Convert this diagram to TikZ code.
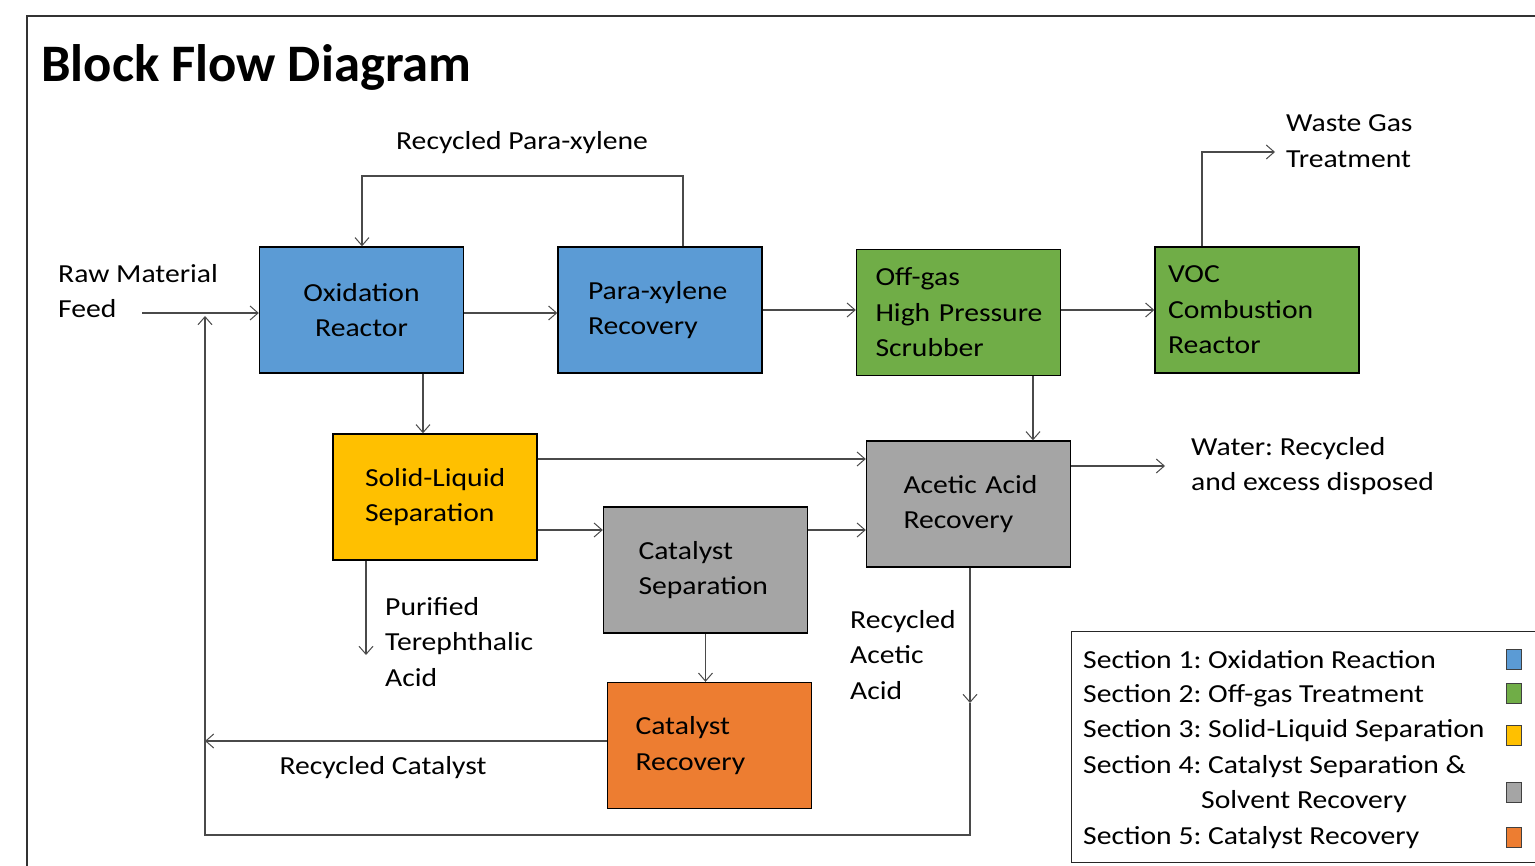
\documentclass[tikz,border=0pt]{standalone}
\usepackage{fontspec}
\setmainfont{Carlito}[FakeStretch=1.14]
\newfontfamily\titlefont{Carlito}
\usetikzlibrary{arrows.meta}
\definecolor{cblue}{HTML}{5B9BD5}
\definecolor{cgreen}{HTML}{70AD47}
\definecolor{cyellow}{HTML}{FFC000}
\definecolor{cgray}{HTML}{A5A5A5}
\definecolor{corange}{HTML}{ED7D31}
\definecolor{lgray}{HTML}{4A4A4A}
\newcommand\fz{\fontsize{26}{35.5}\selectfont}
\frenchspacing
\begin{document}
\begin{tikzpicture}[x=1pt,y=-1pt,
  blk/.style={draw=black, line width=1.4pt, minimum width=204pt, minimum height=126pt, font=\fz, inner ysep=0pt},
  lblk/.style={blk, align=left, inner xsep=#1, text width=204pt-2*#1,
    execute at begin node={\hyphenpenalty=10000\exhyphenpenalty=10000\hbadness=10000\hfuzz=100pt}},
  flow/.style={draw=lgray, line width=1.1pt, -{Straight Barb[length=8pt,width=14pt,line width=1pt]}},
  plain/.style={draw=lgray, line width=1.1pt},
  lbl/.style={font=\fz, inner sep=0pt, align=left, anchor=west},
  sq/.style={draw=black!75, line width=1pt, minimum width=15pt, minimum height=20pt, inner sep=0pt}]
\useasboundingbox (0,0) rectangle (1535,866);
\clip (0,0) rectangle (1535,866);
\fill[white] (0,0) rectangle (1535,866);
% frame
\draw[black!80, line width=1.5pt] (27,880) -- (27,16) -- (1550,16);
% title
\node[font=\titlefont\fontsize{52.7}{60}\selectfont\bfseries, inner sep=0pt, anchor=base west] (title) at (41,82) {Block Flow Diagram};
% blocks
\node[blk, fill=cblue, align=center] (ox) at (361.5,310) {Oxidation\\Reactor};
\node[lblk=30pt, fill=cblue] (px) at (660,310) {Para-xylene\\Recovery};
\node[lblk=19pt, fill=cgreen] (og) at (958.5,312.5) {Off-gas\\High~Pressure\\Scrubber};
\node[lblk=13pt, fill=cgreen] (voc) at (1257,310) {VOC\\Combustion\\Reactor};
\node[lblk=32pt, fill=cyellow] (sl) at (435,497) {Solid-Liquid\\Separation};
\node[lblk=35pt, fill=cgray] (cs) at (705.5,570) {Catalyst\\Separation};
\node[lblk=37pt, fill=cgray] (aa) at (968.5,504) {Acetic~Acid\\Recovery};
\node[lblk=28pt, fill=corange] (cr) at (709.5,745.5) {Catalyst\\Recovery};
% labels
\node[font=\fz, inner sep=0pt, anchor=base] (lrpx) at (522,150) {Recycled Para-xylene};
\node[lbl] (lwg) at (1286,141) {Waste Gas\\Treatment};
\node[lbl] (lraw) at (58,291) {Raw Material\\Feed};
\node[lbl] (lwat) at (1191,466) {Water: Recycled\\and excess disposed};
\node[lbl] (lpta) at (385,642) {Purified\\Terephthalic\\Acid};
\node[lbl] (lraa) at (850,655) {Recycled\\Acetic\\Acid};
\node[font=\fz, inner sep=0pt] (lrc) at (383,768) {Recycled Catalyst};
% coordinates
\coordinate (feedstart) at (142,313);
\coordinate (wgend) at (1275,152);
\coordinate (watend) at (1165,466);
\coordinate (ptaend) at (366,655);
\coordinate (aamid) at (970,703);
\coordinate (rcend) at (205,741);
\coordinate (raend) at (205,316);
% connectors
\draw[flow] (feedstart) -- (ox.west |- feedstart);
\draw[flow] (ox.east |- 0,313) -- (px.west |- 0,313);
\draw[flow] (px.east |- 0,310) -- (og.west |- 0,310);
\draw[flow] (og.east |- 0,310) -- (voc.west |- 0,310);
\draw[flow] (voc.north -| 1202,0) |- (wgend);
\draw[flow] (px.north -| 683,0) -- (683,176) -| (ox.north -| 362,0);
\draw[flow] (ox.south -| 423,0) -- (sl.north -| 423,0);
\draw[flow] (og.south -| 1033,0) -- (aa.north -| 1033,0);
\draw[flow] (sl.east |- 0,459) -- (aa.west |- 0,459);
\draw[flow] (sl.east |- 0,530) -- (cs.west |- 0,530);
\draw[flow] (cs.east |- 0,530) -- (aa.west |- 0,530);
\draw[flow] (aa.east |- watend) -- (watend);
\draw[flow] (sl.south -| ptaend) -- (ptaend);
\draw[flow] (cs.south) -- (cr.north -| cs.south);
\draw[flow] (cr.west |- rcend) -- (rcend);
\draw[flow] (aa.south -| aamid) -- (aamid);
\draw[plain] (aamid) -- (970,835) -- (205,835) -- (205,330);
\draw[flow] (205,335) -- (raend);
% legend
\node[draw=black!85, line width=1.4pt, minimum width=480pt, minimum height=231pt, anchor=north west, inner sep=0pt] (leg) at (1071,631) {};
\node[lbl] (s1) at (1083,660) {Section 1: Oxidation Reaction};
\node[lbl] (s2) at (1083,696) {Section 2: Off-gas Treatment};
\node[lbl] (s3) at (1083,731) {Section 3: Solid-Liquid Separation};
\node[lbl] (s4) at (1083,767) {Section 4: Catalyst Separation \&};
\node[lbl] (s4b) at (1201,802) {Solvent Recovery};
\node[lbl] (s5) at (1083,838) {Section 5: Catalyst Recovery};
\node[sq, fill=cblue] (q1) at (1513.5,659) {};
\node[sq, fill=cgreen] (q2) at (1513.5,693.5) {};
\node[sq, fill=cyellow] (q3) at (1513.5,735) {};
\node[sq, fill=cgray] (q4) at (1513.5,792) {};
\node[sq, fill=corange] (q5) at (1513.5,837) {};
\end{tikzpicture}
\end{document}
